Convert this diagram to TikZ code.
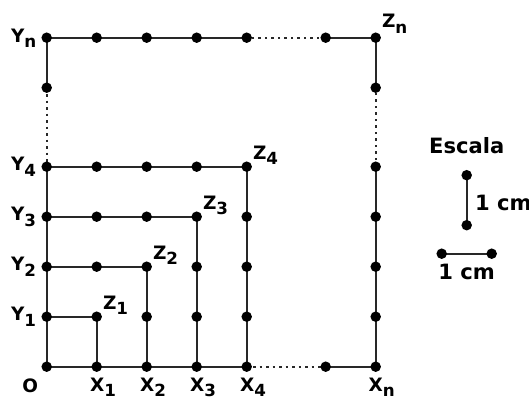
\documentclass[tikz,border=0pt]{standalone}
\usepackage{fontspec}
\setmainfont{DejaVu Sans}
\definecolor{linec}{RGB}{40,40,40}
\newcommand{\mysub}[1]{\raisebox{-3.2pt}{\fontsize{9.5}{9.5}\selectfont #1}}
\begin{document}
\begin{tikzpicture}[
  ln/.style={line width=1.25pt, draw=linec},
  dotline/.style={ln, dash pattern=on 1.4pt off 2.3pt},
  dot/.style={circle, fill=black, inner sep=0pt, minimum size=0.21cm},
  lbl/.style={font=\bfseries\fontsize{10.5}{12}\selectfont, inner sep=0pt},
  big/.style={font=\bfseries\fontsize{12}{14}\selectfont, inner sep=0pt}
]
\useasboundingbox (-0.934,-0.686) rectangle (9.646,7.334);
\def\N{6.58}
\def\M{5.58}
% frame coordinates
\coordinate (O) at (0,0);
\foreach \i in {1,...,4}{
  \coordinate (x\i) at (\i,0);
  \coordinate (y\i) at (0,\i);
  \coordinate (t\i) at (\i,\N);
  \coordinate (r\i) at (\N,\i);
  \coordinate (z\i) at (\i,\i);
}
\coordinate (b5) at (\M,0);
\coordinate (xn) at (\N,0);
\coordinate (l5) at (0,\M);
\coordinate (yn) at (0,\N);
\coordinate (t5) at (\M,\N);
\coordinate (zn) at (\N,\N);
\coordinate (r5) at (\N,\M);
% interior squares
\foreach \k in {1,...,4}{
  \draw[ln] (y\k) -- (z\k) -- (x\k);
}
% outer frame
\draw[ln] (x4) -- (O) -- (y4);
\draw[dotline] (x4) -- (b5);
\draw[ln] (b5) -- (xn) -- (r4);
\draw[dotline] (r4) -- (r5);
\draw[ln] (r5) -- (zn) -- (t5);
\draw[dotline] (t5) -- (t4);
\draw[ln] (t4) -- (yn) -- (l5);
\draw[dotline] (l5) -- (y4);
% dots
\foreach \p in {O,x1,x2,x3,x4,b5,xn,y1,y2,y3,y4,l5,yn,t1,t2,t3,t4,t5,zn,r1,r2,r3,r4,r5,z1,z2,z3,z4}{
  \node[dot] at (\p) {};
}
\foreach \k in {2,3,4}{
  \pgfmathtruncatemacro{\km}{\k-1}
  \foreach \j in {1,...,\km}{
    \node[dot] at (\j,\k) {};
    \node[dot] at (\k,\j) {};
  }
}
% labels
\node[lbl] (lO) at (-0.33,-0.38) {O};
\foreach \i in {1,...,4}{
  \node[lbl, anchor=base west] (lx\i) at (\i-0.14,-0.49) {X\mysub{\i}};
  \node[lbl, anchor=base west] (ly\i) at (-0.72,\i-0.08) {Y\mysub{\i}};
  \node[lbl, anchor=base west] (lz\i) at (\i+0.12,\i+0.15) {Z\mysub{\i}};
}
\node[lbl, anchor=base west] (lxn) at (\N-0.15,-0.49) {X\mysub{n}};
\node[lbl, anchor=base west] (lyn) at (-0.72,\N-0.09) {Y\mysub{n}};
\node[lbl, anchor=base west] (lzn) at (\N+0.12,\N+0.2) {Z\mysub{n}};
% scale
\coordinate (sv1) at (8.4,3.83);
\coordinate (sv2) at (8.4,2.83);
\coordinate (sh1) at (7.9,2.26);
\coordinate (sh2) at (8.9,2.26);
\draw[ln] (sv1) -- (sv2);
\draw[ln] (sh1) -- (sh2);
\foreach \p in {sv1,sv2,sh1,sh2}{ \node[dot] at (\p) {}; }
\node[big] (esc) at (8.4,4.43) {Escala};
\node[big, anchor=west] (cmv) at (8.56,3.28) {1 cm};
\node[big] (cmh) at (8.4,1.9) {1 cm};
\end{tikzpicture}
\end{document}
